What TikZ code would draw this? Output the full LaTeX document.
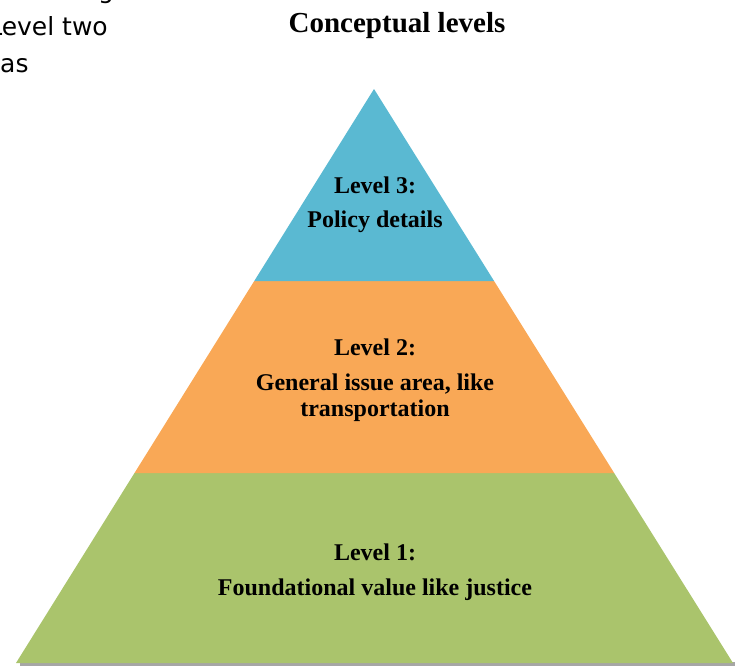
\documentclass[tikz,border=0pt]{standalone}
\usepackage{fontspec}
\setmainfont{Liberation Serif}
\newfontfamily\bodyfont{DejaVu Sans}
\usetikzlibrary{calc}

\definecolor{tierblue}{HTML}{5AB9D2}
\definecolor{tierorange}{HTML}{F9A856}
\definecolor{tiergreen}{HTML}{AAC46C}

\begin{document}
\begin{tikzpicture}[x=1pt,y=-1pt,
        lbl/.style={anchor=base, inner sep=0pt,
                        font=\fontsize{24}{26}\selectfont\bfseries},
        side/.style={inner sep=0pt, font=\fontsize{25}{30}\selectfont\bodyfont}]
    \useasboundingbox (0,0) rectangle (740,667);
    \clip (0,0) rectangle (740,667);
    % corners of the pyramid and the two band edges
    \coordinate (top) at (374,89);
    \coordinate (bl) at (16,663);
    \coordinate (br) at (733,663);
    \coordinate (al) at ($(top)!0.3345!(bl)$);
    \coordinate (ar) at ($(top)!0.3345!(br)$);
    \coordinate (bl2) at ($(top)!0.669!(bl)$);
    \coordinate (br2) at ($(top)!0.669!(br)$);
    % shadow under the base
    \fill[black!35] (20,662) rectangle (735,666);
    \fill[tiergreen] (bl2) -- (br2) -- (br) -- (bl) -- cycle;
    \fill[tierorange] (al) -- (ar) -- (br2) -- (bl2) -- cycle;
    \fill[tierblue] (top) -- (ar) -- (al) -- cycle;

    \node[lbl, font=\fontsize{29}{30}\selectfont\bfseries] (title)
        at (397,32) {Conceptual levels};
    \node[lbl] (l3a) at (375,193) {Level 3:};
    \node[lbl] (l3b) at (375,227) {Policy details};
    \node[lbl] (l2a) at (375,355) {Level 2:};
    \node[lbl] (l2b) at (375,390) {General issue area, like};
    \node[lbl] (l2c) at (375,416) {transportation};
    \node[lbl] (l1a) at (375,560) {Level 1:};
    \node[lbl] (l1b) at (375,595) {Foundational value like justice};

    % running text beside the figure
    \node[side, anchor=base] (sg) at (106,-2) {g};
    \node[side, anchor=base east] (s2) at (108,35) {Level two};
    \node[side, anchor=base west] (s3) at (0,72) {as};
\end{tikzpicture}
\end{document}
